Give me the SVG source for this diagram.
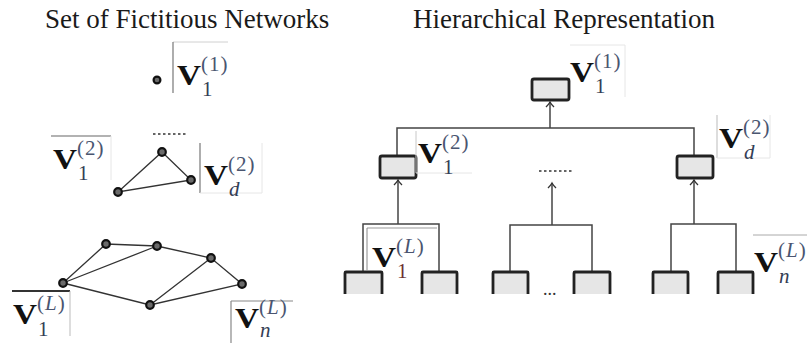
<svg xmlns="http://www.w3.org/2000/svg" width="807" height="343" viewBox="0 0 807 343">
<style>
.title{font-family:"Liberation Serif",serif;font-size:27px;fill:#1a1a1a}
.V{font-family:"Liberation Serif",serif;font-weight:bold;font-size:30px;fill:#111}
.ss{font-family:"Liberation Serif",serif;font-size:21px}
.sup{fill:#4a5570;letter-spacing:1px}
.sub{fill:#343d55;letter-spacing:0}
.it{font-style:italic}
.dot{fill:#6a6a6a;stroke:#111;stroke-width:2.2}
.edge{stroke:#333;stroke-width:1.3;fill:none}
.conn{stroke:#444;stroke-width:1.5;fill:none}
.box{fill:#e6e6e6;stroke:#222;stroke-width:2.8}
.faint{stroke:#e6e6e6;stroke-width:1;fill:none}
.dots{stroke:#333;stroke-width:1.5;stroke-dasharray:2.5 2.5;fill:none}
.ell{font-family:"Liberation Serif",serif;font-size:18px;fill:#333}
</style>
<defs>
<marker id="arr" viewBox="-7 -5 9 10" refX="0" refY="0" markerWidth="9" markerHeight="10" markerUnits="userSpaceOnUse" orient="auto">
<path d="M-5,-4 Q-2,-1 0,0 Q-2,1 -5,4" stroke="#333" stroke-width="1.3" fill="none"/>
</marker>
</defs>

<text class="title" x="45" y="28">Set of Fictitious Networks</text>
<text class="title" x="413" y="28">Hierarchical Representation</text>

<!-- left networks: edges -->
<g id="net-edges">
<path class="edge" d="M162,152 L191,180 L118,192 Z"/>
<path class="edge" d="M63,283 L106,244 L157,246 L211,258 L242,284 L150,305 L63,283 M63,283 L157,246 M211,258 L150,305"/>
<line class="dots" x1="153" y1="134" x2="188" y2="134"/>
</g>

<g id="net1-node"><circle class="dot" cx="157" cy="80" r="3.4"/></g>
<g id="net2-node-a"><circle class="dot" cx="162" cy="152" r="3.8"/></g>
<g id="net2-node-b"><circle class="dot" cx="191" cy="180" r="3.8"/></g>
<g id="net2-node-c"><circle class="dot" cx="118" cy="192" r="3.8"/></g>
<g id="netL-node-a"><circle class="dot" cx="63" cy="283" r="3.8"/></g>
<g id="netL-node-b"><circle class="dot" cx="106" cy="244" r="3.8"/></g>
<g id="netL-node-c"><circle class="dot" cx="157" cy="246" r="3.8"/></g>
<g id="netL-node-d"><circle class="dot" cx="211" cy="258" r="3.8"/></g>
<g id="netL-node-e"><circle class="dot" cx="242" cy="284" r="3.8"/></g>
<g id="netL-node-f"><circle class="dot" cx="150" cy="305" r="3.8"/></g>

<!-- left labels -->
<g id="lab-left-V1-1">
<path d="M173,42 L228,42" stroke="#d0d0d0" stroke-width="1"/>
<path d="M173,42 L173,93" stroke="#777" stroke-width="1.2"/>
<g transform="translate(177,85)">
<text class="V" x="0" y="0" textLength="24" lengthAdjust="spacingAndGlyphs">V</text>
<text class="ss"><tspan class="sup" x="24" y="-14">(1)</tspan><tspan class="sub" x="25" y="11">1</tspan></text>
</g>
</g>
<g id="lab-left-V1-2">
<path d="M51,136 L111,136" stroke="#666" stroke-width="1.2"/>
<path d="M111,136 L111,180" class="faint"/>
<g transform="translate(53,169)">
<text class="V" x="0" y="0" textLength="24" lengthAdjust="spacingAndGlyphs">V</text>
<text class="ss"><tspan class="sup" x="24" y="-14">(2)</tspan><tspan class="sub" x="25" y="11">1</tspan></text>
</g>
</g>
<g id="lab-left-Vd-2">
<path d="M200,143 L200,193" stroke="#777" stroke-width="1.2"/>
<path d="M200,193 L262,193 L262,143" class="faint"/>
<g transform="translate(204,185)">
<text class="V" x="0" y="0" textLength="24" lengthAdjust="spacingAndGlyphs">V</text>
<text class="ss"><tspan class="sup" x="24" y="-14">(2)</tspan><tspan class="sub it" x="25" y="11">d</tspan></text>
</g>
</g>
<g id="lab-left-V1-L">
<path d="M12,291 L70,291" stroke="#333" stroke-width="2"/>
<path d="M70,291 L70,336" stroke="#bbb" stroke-width="1"/>
<g transform="translate(13,324)">
<text class="V" x="0" y="0" textLength="24" lengthAdjust="spacingAndGlyphs">V</text>
<text class="ss"><tspan class="sup" x="24" y="-14">(<tspan class="it">L</tspan>)</tspan><tspan class="sub" x="25" y="12">1</tspan></text>
</g>
</g>
<g id="lab-left-Vn-L">
<path d="M231,301 L293,301" stroke="#888" stroke-width="1.2"/>
<path d="M231,301 L231,343" stroke="#888" stroke-width="1.2"/>
<g transform="translate(235,328)">
<text class="V" x="0" y="0" textLength="24" lengthAdjust="spacingAndGlyphs">V</text>
<text class="ss"><tspan class="sup" x="24" y="-14">(<tspan class="it">L</tspan>)</tspan><tspan class="sub it" x="25" y="9">n</tspan></text>
</g>
</g>

<!-- hierarchy connectors -->
<g id="connectors">
<path class="conn" d="M397,156 L397,128 L694,128 L694,156"/>
<path class="conn" d="M550,128 L550,102" marker-end="url(#arr)"/>
<path class="conn" d="M363,272 L363,224 L439,224 L439,272"/>
<path class="conn" d="M398,224 L398,180" marker-end="url(#arr)"/>
<path class="conn" d="M510,272 L510,225 L592,225 L592,272"/>
<path class="conn" d="M552,225 L552,183" marker-end="url(#arr)"/>
<path class="conn" d="M671,272 L671,224 L736,224 L736,272"/>
<path class="conn" d="M694,224 L694,180" marker-end="url(#arr)"/>
<line class="dots" x1="539" y1="171" x2="574" y2="171"/>
<text class="ell" x="543" y="295">...</text>
</g>

<!-- hierarchy nodes -->
<g id="h-top"><rect class="box" x="532" y="79" width="37" height="21" rx="2"/></g>
<g id="h-mid-1"><rect class="box" x="380" y="156" width="36" height="22" rx="2"/></g>
<g id="h-mid-d"><rect class="box" x="677" y="156" width="36" height="22" rx="2"/></g>
<g id="h-leaf-1"><path class="box" d="M345,294 L345,273 Q345,272 346,272 L381,272 Q382,272 382,273 L382,294"/></g>
<g id="h-leaf-2"><path class="box" d="M422,294 L422,273 Q422,272 423,272 L456,272 Q457,272 457,273 L457,294"/></g>
<g id="h-leaf-3"><path class="box" d="M493,294 L493,273 Q493,272 494,272 L527,272 Q528,272 528,273 L528,294"/></g>
<g id="h-leaf-4"><path class="box" d="M574,294 L574,273 Q574,272 575,272 L609,272 Q610,272 610,273 L610,294"/></g>
<g id="h-leaf-5"><path class="box" d="M653,294 L653,273 Q653,272 654,272 L687,272 Q688,272 688,273 L688,294"/></g>
<g id="h-leaf-6"><path class="box" d="M718,294 L718,273 Q718,272 719,272 L752,272 Q753,272 753,273 L753,294"/></g>

<!-- hierarchy labels -->
<g id="lab-right-V1-1">
<path d="M570,45 L625,45 L625,97" class="faint"/>
<g transform="translate(570,82)">
<text class="V" x="0" y="0" textLength="24" lengthAdjust="spacingAndGlyphs">V</text>
<text class="ss"><tspan class="sup" x="24" y="-14">(1)</tspan><tspan class="sub" x="25" y="11">1</tspan></text>
</g>
</g>
<g id="lab-right-V1-2">
<path d="M416,131 L416,173" stroke="#c8c8c8" stroke-width="1"/>
<path d="M416,173 L472,173" class="faint"/>
<g transform="translate(418,163)">
<text class="V" x="0" y="0" textLength="24" lengthAdjust="spacingAndGlyphs">V</text>
<text class="ss"><tspan class="sup" x="24" y="-14">(2)</tspan><tspan class="sub" x="25" y="11">1</tspan></text>
</g>
</g>
<g id="lab-right-Vd-2">
<path d="M717,115 L717,158" stroke="#bbb" stroke-width="1"/>
<path d="M717,158 L770,158 L770,115" class="faint"/>
<g transform="translate(719,148)">
<text class="V" x="0" y="0" textLength="24" lengthAdjust="spacingAndGlyphs">V</text>
<text class="ss"><tspan class="sup" x="24" y="-14">(2)</tspan><tspan class="sub it" x="25" y="11">d</tspan></text>
</g>
</g>
<g id="lab-right-V1-L">
<path d="M367,228 L437,228" stroke="#999" stroke-width="1"/>
<path d="M367,228 L367,271" stroke="#888" stroke-width="1"/>
<g transform="translate(372,267)">
<text class="V" x="0" y="0" textLength="24" lengthAdjust="spacingAndGlyphs">V</text>
<text class="ss"><tspan class="sup" x="24" y="-14">(<tspan class="it">L</tspan>)</tspan><tspan class="sub" x="25" y="11" style="fill:#6b3030">1</tspan></text>
</g>
</g>
<g id="lab-right-Vn-L">
<path d="M753,235 L807,235" stroke="#aaa" stroke-width="1"/>
<g transform="translate(754,272)">
<text class="V" x="0" y="0" textLength="24" lengthAdjust="spacingAndGlyphs">V</text>
<text class="ss"><tspan class="sup" x="24" y="-15">(<tspan class="it">L</tspan>)</tspan><tspan class="sub it" x="25" y="11">n</tspan></text>
</g>
</g>
</svg>
